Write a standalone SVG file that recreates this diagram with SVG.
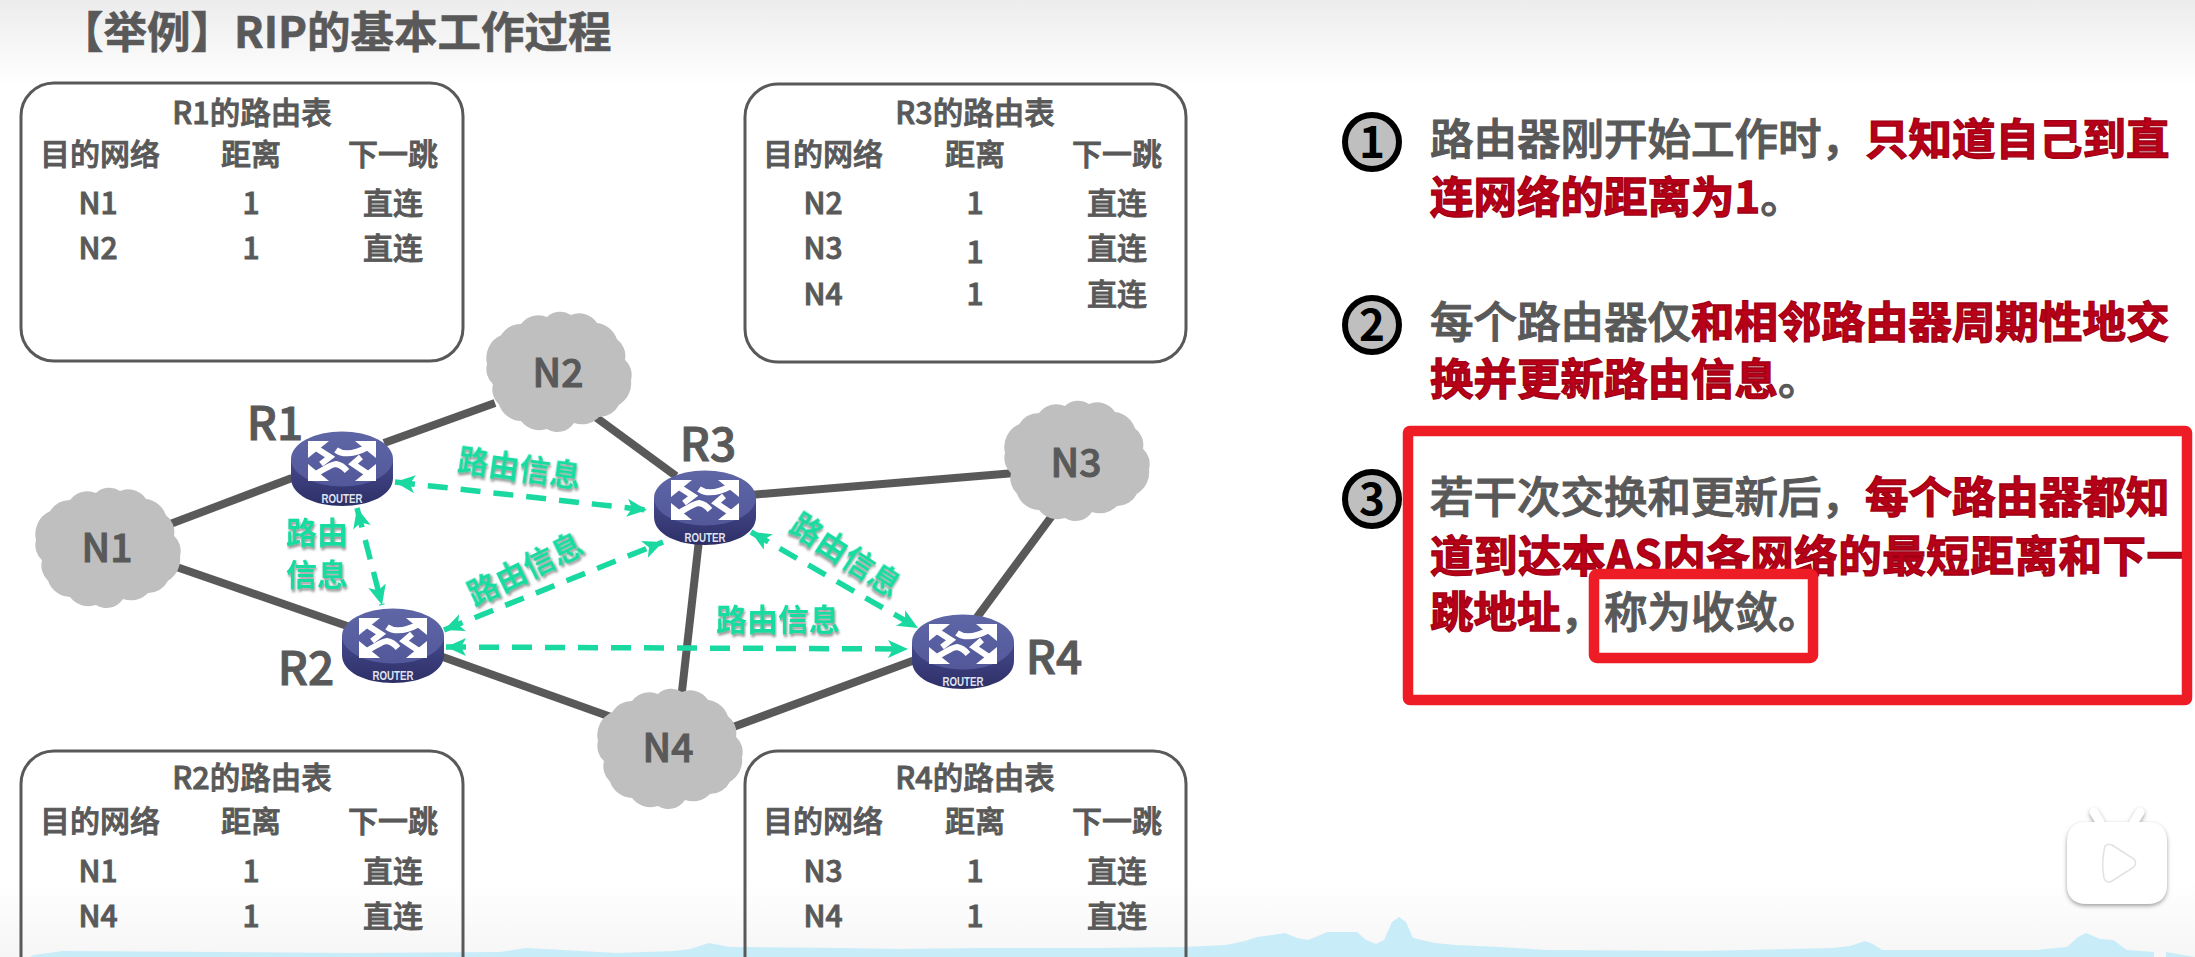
<svg xmlns="http://www.w3.org/2000/svg" xmlns:xlink="http://www.w3.org/1999/xlink" width="2195" height="957" viewBox="0 0 2195 957">
<style>
text{font-family:"Noto Sans CJK SC","Noto Sans",sans-serif;fill:#595959}
.title{font-size:43.5px;font-weight:700;stroke:#595959;stroke-width:.6}
.tb{fill:none;stroke:#595959;stroke-width:3}
.tt{font-size:30.5px;font-weight:500;text-anchor:middle;stroke:#595959;stroke-width:.9}
.th{font-size:30px;font-weight:500;text-anchor:middle;stroke:#595959;stroke-width:.9}
.net{stroke:#595959;stroke-width:8;fill:none}
.info{stroke:#19d9a0;stroke-width:5.5;fill:none;stroke-dasharray:20 13;marker-start:url(#ah);marker-end:url(#ah)}
.lab{font-size:31px;font-weight:700;fill:#12dca2;text-anchor:middle;filter:url(#ls)}
.cloud{fill:#bfbfbf}
.nl{font-size:39px;font-weight:500;text-anchor:middle;stroke:#595959;stroke-width:1}
.rl{font-size:46px;font-weight:500;text-anchor:middle;stroke:#595959;stroke-width:1}
.rt{font-family:"Liberation Sans",sans-serif;font-size:12px;font-weight:700;fill:#dfe2f0;text-anchor:middle}
.p{font-size:43.5px;font-weight:500;stroke:#595959;stroke-width:1.1}
.r{font-weight:700;fill:#b80018;stroke:#a00014;stroke-width:1.3}
.g{font-weight:500}
.num{fill:#bfbfbf;stroke:#000;stroke-width:6}
.nt{font-size:44px;font-weight:700;fill:#000;text-anchor:middle;stroke:none}
.rb{fill:none;stroke:#ee1c25;stroke-width:10.5;stroke-linejoin:round}
</style>
<defs>
<linearGradient id="top" x1="0" y1="0" x2="0" y2="1"><stop offset="0" stop-color="#ececec"/><stop offset="1" stop-color="#ffffff"/></linearGradient>
<linearGradient id="bot" x1="0" y1="0" x2="0" y2="1"><stop offset="0" stop-color="#ffffff"/><stop offset="1" stop-color="#f6f6f6"/></linearGradient>
<linearGradient id="rface" x1="0" y1="0" x2="0" y2="1"><stop offset="0" stop-color="#5f66a6"/><stop offset="1" stop-color="#52589a"/></linearGradient>
<linearGradient id="rbody" x1="0" y1="0" x2="0" y2="1"><stop offset="0" stop-color="#454a8c"/><stop offset="1" stop-color="#2d2f66"/></linearGradient>
<filter id="ls" x="-20%" y="-30%" width="140%" height="170%"><feDropShadow dx="1" dy="2.5" stdDeviation="1.2" flood-color="#777" flood-opacity=".75"/></filter>
<filter id="is" x="-20%" y="-20%" width="140%" height="140%"><feDropShadow dx="0" dy="2" stdDeviation="2" flood-color="#777" flood-opacity=".7"/></filter>
<marker id="ah" markerUnits="userSpaceOnUse" markerWidth="24" markerHeight="22" refX="20" refY="10" orient="auto-start-reverse"><path d="M0,1 L20,10 L0,19 L5,10 Z" fill="#19d9a0"/></marker>
<path id="cl" d="M-58,-36 A24,24 0 0 1 -38,-47 A22,22 0 0 1 -12,-54 A20,20 0 0 1 12,-56 A22,22 0 0 1 38,-48 A24,24 0 0 1 58,-32 A20,20 0 0 1 66,-12 A20,20 0 0 1 72,8 A24,24 0 0 1 60,32 A22,22 0 0 1 40,44 A24,24 0 0 1 15,50 A20,20 0 0 1 -12,56 A24,24 0 0 1 -38,48 A24,24 0 0 1 -60,32 A20,20 0 0 1 -66,12 A20,20 0 0 1 -72,-8 A24,24 0 0 1 -58,-36 Z"/>
<g id="rtr">
<path d="M-51,0 V19 C-51,36 -28,47 0,47 C28,47 51,36 51,19 V0 Z" fill="url(#rbody)"/>
<ellipse cx="0" cy="0" rx="51" ry="27.5" fill="url(#rface)"/>
<g fill="#fff"><path d="M-34,-18 H-13 L-34,-1 Z"/><path d="M34,-18 H13 L34,-1 Z"/><path d="M-34,22 V5 L-13,22 Z"/><path d="M34,22 V5 L13,22 Z"/></g>
<g fill="none" stroke="#fff" stroke-width="6"><path d="M-26,-11 L-12,-2 L-21,5"/><path d="M-6,-9 Q5,-1 26,-12"/><path d="M-26,15 Q-10,5 -6,5 Q0,6 5,12"/><path d="M26,15 L11,5 L19,-2"/></g>
</g>
</defs>

<rect width="2195" height="957" fill="#fff"/>
<rect width="2195" height="85" fill="url(#top)"/>
<rect y="880" width="2195" height="77" fill="url(#bot)"/>
<path id="wave" fill="#c9ecf9" d="M30,957 L34,955 L63,951 L351,953 L500,952 L526,948 L617,953 L674,951 L690,949 L709,943 L730,947 L842,948 L898,949 L982,948 L1100,948 L1184,947 L1226,945 L1245,941 L1257,937 L1272,935 L1285,933 L1297,938 L1308,940 L1318,936 L1327,932 L1357,932 L1366,940 L1376,944 L1384,940 L1392,922 L1399,917 L1406,922 L1413,938 L1418,939 L1435,943 L1456,945 L1500,947 L1547,950 L1700,951 L1833,948 L1850,946 L1865,941 L1873,944 L1882,950 L2036,950 L2067,947 L2078,937 L2086,933 L2100,939 L2113,940 L2127,950 L2154,952 L2154,957 Z"/>
<path fill="#c9ecf9" d="M2166,952 L2195,957 L2166,957 Z"/>

<text class="title" x="60" y="48">【举例】RIP的基本工作过程</text>

<g id="table-r1">
<rect class="tb" x="21" y="83" width="442" height="278" rx="33"/>
<text class="tt" x="252" y="124">R1的路由表</text>
<text class="th" x="100" y="165">目的网络</text><text class="th" x="251" y="165">距离</text><text class="th" x="393" y="165">下一跳</text>
<text class="th" x="98" y="214">N1</text><text class="th" x="251" y="214">1</text><text class="th" x="393" y="214">直连</text>
<text class="th" x="98" y="259">N2</text><text class="th" x="251" y="259">1</text><text class="th" x="393" y="259">直连</text>
</g>
<g id="table-r3">
<rect class="tb" x="745" y="84" width="441" height="278" rx="33"/>
<text class="tt" x="975" y="124">R3的路由表</text>
<text class="th" x="823" y="165">目的网络</text><text class="th" x="975" y="165">距离</text><text class="th" x="1117" y="165">下一跳</text>
<text class="th" x="823" y="214">N2</text><text class="th" x="975" y="214">1</text><text class="th" x="1117" y="214">直连</text>
<text class="th" x="823" y="259">N3</text><text class="th" x="975" y="263">1</text><text class="th" x="1117" y="259">直连</text>
<text class="th" x="823" y="305">N4</text><text class="th" x="975" y="305">1</text><text class="th" x="1117" y="305">直连</text>
</g>
<g id="table-r2">
<rect class="tb" x="21" y="751" width="442" height="260" rx="33"/>
<text class="tt" x="252" y="789">R2的路由表</text>
<text class="th" x="100" y="832">目的网络</text><text class="th" x="251" y="832">距离</text><text class="th" x="393" y="832">下一跳</text>
<text class="th" x="98" y="882">N1</text><text class="th" x="251" y="882">1</text><text class="th" x="393" y="882">直连</text>
<text class="th" x="98" y="927">N4</text><text class="th" x="251" y="927">1</text><text class="th" x="393" y="927">直连</text>
</g>
<g id="table-r4">
<rect class="tb" x="745" y="751" width="441" height="260" rx="33"/>
<text class="tt" x="975" y="789">R4的路由表</text>
<text class="th" x="823" y="832">目的网络</text><text class="th" x="975" y="832">距离</text><text class="th" x="1117" y="832">下一跳</text>
<text class="th" x="823" y="882">N3</text><text class="th" x="975" y="882">1</text><text class="th" x="1117" y="882">直连</text>
<text class="th" x="823" y="927">N4</text><text class="th" x="975" y="927">1</text><text class="th" x="1117" y="927">直连</text>
</g>

<g id="connectors">
<g id="links" class="net">
<line x1="384" y1="443" x2="495" y2="403"/>
<line x1="165" y1="526" x2="292" y2="478"/>
<line x1="165" y1="563" x2="350" y2="627"/>
<line x1="440" y1="656" x2="625" y2="722"/>
<line x1="590" y1="413" x2="676" y2="476"/>
<line x1="750" y1="495" x2="1015" y2="473"/>
<line x1="699" y1="540" x2="681" y2="700"/>
<line x1="975" y1="620" x2="1060" y2="505"/>
<line x1="915" y1="660" x2="725" y2="730"/>
</g>
</g>

<g id="n1"><use href="#cl" class="cloud" transform="translate(108 548) scale(1 1.02)"/><text class="nl" x="107" y="562">N1</text></g>
<g id="n2"><use href="#cl" class="cloud" transform="translate(559 372) scale(1 1.02)"/><text class="nl" x="558" y="387">N2</text></g>
<g id="n3"><use href="#cl" class="cloud" transform="translate(1077 461) scale(1 1.02)"/><text class="nl" x="1076" y="477">N3</text></g>
<g id="n4"><use href="#cl" class="cloud" transform="translate(670 749) scale(1 1.02)"/><text class="nl" x="668" y="762">N4</text></g>

<g id="r1"><use href="#rtr" x="342" y="459"/><text class="rt" x="342" y="503" textLength="41" lengthAdjust="spacingAndGlyphs">ROUTER</text><text class="rl" x="275" y="440">R1</text></g>
<g id="r2"><use href="#rtr" x="393" y="636"/><text class="rt" x="393" y="680" textLength="41" lengthAdjust="spacingAndGlyphs">ROUTER</text><text class="rl" x="306" y="685">R2</text></g>
<g id="r3"><use href="#rtr" x="705" y="498"/><text class="rt" x="705" y="542" textLength="41" lengthAdjust="spacingAndGlyphs">ROUTER</text><text class="rl" x="708" y="461">R3</text></g>
<g id="r4"><use href="#rtr" x="963" y="642"/><text class="rt" x="963" y="686" textLength="41" lengthAdjust="spacingAndGlyphs">ROUTER</text><text class="rl" x="1054" y="674">R4</text></g>

<g id="info-connectors">
<line class="info" x1="395" y1="482" x2="647" y2="510"/>
<line class="info" x1="357" y1="508" x2="382" y2="605"/>
<line class="info" x1="444" y1="630" x2="663" y2="542"/>
<line class="info" x1="446" y1="647" x2="908" y2="649"/>
<line class="info" x1="751" y1="532" x2="918" y2="628"/>
<text class="lab" transform="translate(518 479) rotate(8)">路由信息</text>
<text class="lab" x="317" y="544">路由</text>
<text class="lab" x="317" y="586">信息</text>
<text class="lab" transform="translate(530 579) rotate(-26)">路由信息</text>
<text class="lab" transform="translate(840 564) rotate(33)">路由信息</text>
<text class="lab" x="778" y="631">路由信息</text>
</g>

<g id="step1"><circle class="num" cx="1372" cy="142" r="27"/><text class="nt" x="1372" y="158">1</text>
<text class="p" x="1430" y="155">路由器刚开始工作时，<tspan class="r">只知道自己到直</tspan></text>
<text class="p" x="1430" y="213"><tspan class="r">连网络的距离为1</tspan>。</text></g>
<g id="step2"><circle class="num" cx="1372" cy="325" r="27"/><text class="nt" x="1372" y="341">2</text>
<text class="p" x="1430" y="338">每个路由器仅<tspan class="r">和相邻路由器周期性地交</tspan></text>
<text class="p" x="1430" y="395"><tspan class="r">换并更新路由信息</tspan>。</text></g>
<g id="step3"><circle class="num" cx="1372" cy="499" r="27"/><text class="nt" x="1372" y="515">3</text>
<text class="p" x="1430" y="513">若干次交换和更新后，<tspan class="r">每个路由器都知</tspan></text>
<text class="p" x="1430" y="572" textLength="760" lengthAdjust="spacing"><tspan class="r">道到达本AS内各网络的最短距离和下一</tspan></text>
<text class="p" x="1430" y="628"><tspan class="r">跳地址</tspan>，称为收敛。</text></g>
<rect class="rb" x="1408" y="431" width="779" height="269" rx="2"/>
<rect class="rb" x="1594" y="574" width="219" height="84" rx="3"/>

<g id="logo" filter="url(#is)">
<path d="M2100,822 L2094,812 M2134,822 L2140,812" stroke="#fff" stroke-width="9" stroke-linecap="round" fill="none"/>
<path d="M2087,822 H2147 Q2167,822 2167,842 V884 Q2167,904 2147,904 H2087 Q2067,904 2067,884 V842 Q2067,822 2087,822 Z" fill="#fff"/>
<path d="M2105,846 Q2108,843 2112,845 L2134,859 Q2137,863 2134,867 L2112,881 Q2106,884 2104,878 Q2101,862 2105,846 Z" fill="#fff" stroke="#e2e2e2" stroke-width="1.5"/>
</g>
</svg>
